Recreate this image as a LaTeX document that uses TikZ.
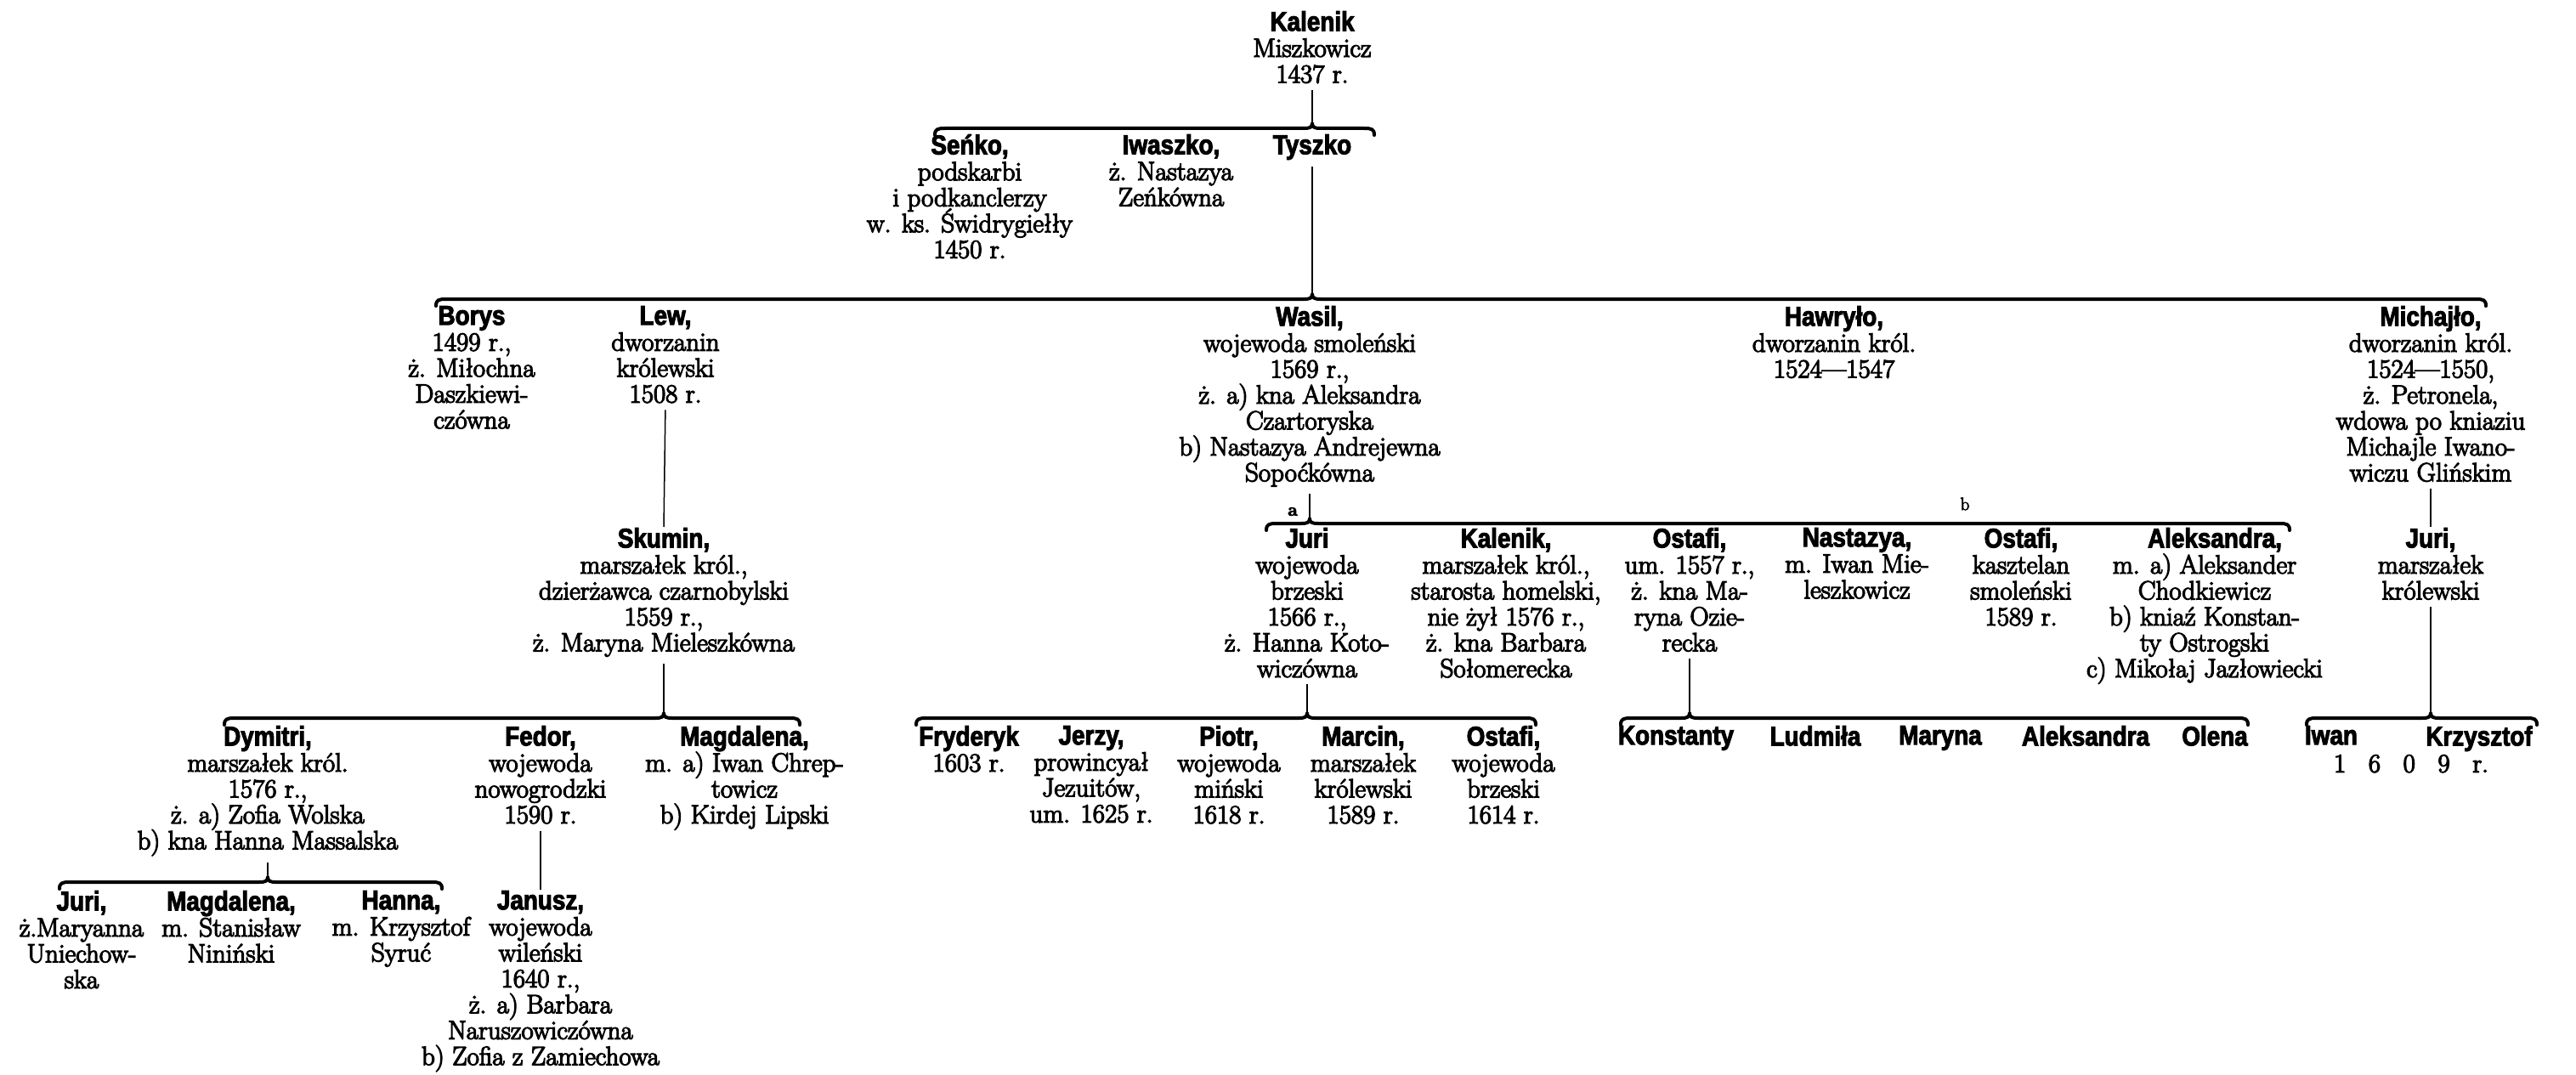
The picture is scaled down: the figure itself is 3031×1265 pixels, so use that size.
\documentclass[tikz,border=0pt]{standalone}
\usepackage{fontspec}
\setmainfont{Latin Modern Roman}[FakeBold=4]
\newfontfamily\namefont[FakeStretch=0.87,FakeBold=3]{Liberation Sans}
\newcommand\pfont{\fontsize{31}{30.5}\selectfont\lineskiplimit=-100pt\relax\lineskip=0pt\relax}
\newcommand\lfont{\fontsize{21}{21}\selectfont}
\tikzset{
 person/.style={anchor=north, align=center, inner sep=0pt, font=\pfont},
 conn/.style={line width=1.5pt, shorten <=8pt, shorten >=1pt},
 bracel/.style={line width=4pt, line cap=round, line join=round},
 mark label/.style={inner sep=0pt, font=\lfont},
}
\newcommand\nm[1]{{\namefont\bfseries\fontsize{32}{30.5}\selectfont #1}}
% #1 left x, #2 right x, #3 tip x, #4 y
\newcommand\drawbrace[4]{%
  \draw[bracel] (#1,#4+8) .. controls (#1,#4+1) and (#1+3,#4) .. (#1+12,#4)
     -- (#3-10,#4) .. controls (#3-3,#4) and (#3,#4-1) .. (#3,#4-6)
     .. controls (#3,#4-1) and (#3+3,#4) .. (#3+10,#4)
     -- (#2-12,#4) .. controls (#2-3,#4) and (#2,#4+1) .. (#2,#4+8);}
\begin{document}
\begin{tikzpicture}[x=1pt,y=-1pt]
\fill[white] (0,0) rectangle (3031,1265);
\useasboundingbox (0,0) rectangle (3031,1265);

% ---------- row 0
\node[person] (K0) at (1544,13) {\nm{Kalenik}\\Miszkowicz\\1437 r.};

% ---------- row 1
\node[person] (S1) at (1141,158) {\nm{Seńko,}\\podskarbi\\i podkanclerzy\\w. ks. Świdrygiełły\\1450 r.};
\node[person] (I1) at (1378,158) {\nm{Iwaszko,}\\ż. Nastazya\\Zeńkówna};
\node[person] (T1) at (1544,158) {\nm{Tyszko}};

% ---------- row 2
\node[person] (B2) at (555,360) {\nm{Borys}\\1499 r.,\\ż. Miłochna\\Daszkiewi-\\czówna};
\node[person] (L2) at (783,360) {\nm{Lew,}\\dworzanin\\królewski\\1508 r.};
\node[person] (W2) at (1541,360) {\nm{Wasil,}\\wojewoda smoleński\\1569 r.,\\ż. a) kna Aleksandra\\Czartoryska\\b) Nastazya Andrejewna\\Sopoćkówna};
\node[person] (H2) at (2158,360) {\nm{Hawryło,}\\dworzanin król.\\1524---1547};
\node[person] (M2) at (2860,360) {\nm{Michajło,}\\dworzanin król.\\1524---1550,\\ż. Petronela,\\wdowa po kniaziu\\Michajle Iwano-\\wiczu Glińskim};

% ---------- row 3
\node[person] (SK) at (781,621) {\nm{Skumin,}\\marszałek król.,\\dzierżawca czarnobylski\\1559 r.,\\ż. Maryna Mieleszkówna};
\node[person] (J3) at (1538,621) {\nm{Juri}\\wojewoda\\brzeski\\1566 r.,\\ż. Hanna Koto-\\wiczówna};
\node[person] (K3) at (1772,621) {\nm{Kalenik,}\\marszałek król.,\\starosta homelski,\\nie żył 1576 r.,\\ż. kna Barbara\\Sołomerecka};
\node[person] (O3) at (1988,621) {\nm{Ostafi,}\\um. 1557 r.,\\ż. kna Ma-\\ryna Ozie-\\recka};
\node[person] (N3) at (2185,621) {\nm{Nastazya,}\\m. Iwan Mie-\\leszkowicz};
\node[person] (O3b) at (2378,621) {\nm{Ostafi,}\\kasztelan\\smoleński\\1589 r.};
\node[person] (A3) at (2594,621) {\hspace*{24pt}\nm{Aleksandra,}\\m. a) Aleksander\\Chodkiewicz\\b) kniaź Konstan-\\ty Ostrogski\\c) Mikołaj Jazłowiecki};
\node[person] (JM3) at (2860,621) {\nm{Juri,}\\marszałek\\królewski};
\node[mark label] (la) at (1521,602) {\textbf{a}};
\node[mark label] (lb) at (2312,593) {b};

% ---------- row 4
\node[person] (D4) at (315,854) {\nm{Dymitri,}\\marszałek król.\\1576 r.,\\ż. a) Zofia Wolska\\b) kna Hanna Massalska};
\node[person] (F4) at (636,854) {\nm{Fedor,}\\wojewoda\\nowogrodzki\\1590 r.};
\node[person] (Mg4) at (876,854) {\nm{Magdalena,}\\m. a) Iwan Chrep-\\towicz\\b) Kirdej Lipski};
\node[person] (Fr4) at (1140,854) {\nm{Fryderyk}\\1603 r.};
\node[person] (Je4) at (1284,854) {\nm{Jerzy,}\\prowincyał\\Jezuitów,\\um. 1625 r.};
\node[person] (P4) at (1446,854) {\nm{Piotr,}\\wojewoda\\miński\\1618 r.};
\node[person] (Ma4) at (1604,854) {\nm{Marcin,}\\marszałek\\królewski\\1589 r.};
\node[person] (Os4) at (1769,854) {\nm{Ostafi,}\\wojewoda\\brzeski\\1614 r.};
\node[person] (Ko4) at (1972,854) {\nm{Konstanty}};
\node[person] (Lu4) at (2136,854) {\nm{Ludmiła}};
\node[person] (My4) at (2283,854) {\nm{Maryna}};
\node[person] (Al4) at (2454,854) {\nm{Aleksandra}};
\node[person] (Ol4) at (2606,854) {\nm{Olena}};
\node[person] (Iw4) at (2743,854) {\nm{Iwan}};
\node[person] (Kr4) at (2917,854) {\nm{Krzysztof}};
\node[person] (Y4) at (2837,888) {\makebox[182pt][s]{1\hfil 6\hfil 0\hfil 9\hfil r.}};

% ---------- row 5
\node[person] (J5) at (96,1048) {\nm{Juri,}\\ż.Maryanna\\Uniechow-\\ska};
\node[person] (Mg5) at (272,1048) {\nm{Magdalena,}\\m. Stanisław\\Niniński};
\node[person] (H5) at (472,1048) {\nm{Hanna,}\\m. Krzysztof\\Syruć};
\node[person] (Ja5) at (636,1048) {\nm{Janusz,}\\wojewoda\\wileński\\1640 r.,\\ż. a) Barbara\\Naruszowiczówna\\b) Zofia z Zamiechowa};

% ---------- brace tips
\coordinate (tA) at (1544,145);
\coordinate (tB) at (1544,346);
\coordinate (tC) at (1541,610);
\coordinate (tD) at (781,839);
\coordinate (tE) at (1538,839);
\coordinate (tF) at (1988,839);
\coordinate (tG) at (2860,839);
\coordinate (tH) at (315,1032);

% ---------- braces
\drawbrace{1100}{1617}{1544}{151}
\drawbrace{513}{2925}{1544}{352}
\drawbrace{1490}{2694}{1541}{616}
\drawbrace{264}{941}{781}{845}
\drawbrace{1078}{1807}{1538}{845}
\drawbrace{1907}{2645}{1988}{845}
\drawbrace{2714}{2985}{2860}{845}
\drawbrace{70}{520}{315}{1038}

% ---------- connectors
\draw[conn] (K0.south) -- (tA);
\draw[conn] (T1.south) -- (tB);
\draw[conn] (L2.south) -- (SK.north);
\draw[conn] (W2.south) -- (tC);
\draw[conn] (M2.south) -- (JM3.north);
\draw[conn] (SK.south) -- (tD);
\draw[conn] (J3.south) -- (tE);
\draw[conn] (O3.south) -- (tF);
\draw[conn] (JM3.south) -- (tG);
\draw[conn] (D4.south) -- (tH);
\draw[conn] (F4.south) -- (Ja5.north);
\end{tikzpicture}
\end{document}
